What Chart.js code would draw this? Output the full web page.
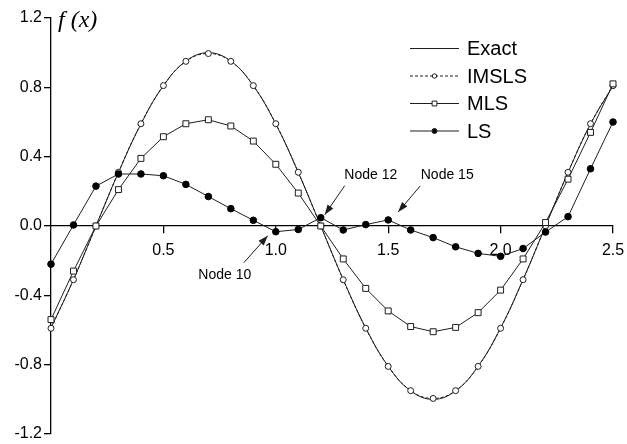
<!DOCTYPE html>
<html>
<head>
<meta charset="utf-8">
<script src="https://cdn.jsdelivr.net/npm/chart.js@4.4.1/dist/chart.umd.min.js"></script>
<style>
  html, body { margin: 0; padding: 0; background: #fff; }
  canvas { display: block; }
</style>
</head>
<body>
<canvas id="chart" width="627" height="444"></canvas>
<script>
// values, nodes at x = 0.0 .. 2.5 (step 0.1)
const xNodes = [0.0, 0.1, 0.2, 0.3, 0.4, 0.5, 0.6, 0.7, 0.8, 0.9, 1.0, 1.1, 1.2,
                1.3, 1.4, 1.5, 1.6, 1.7, 1.8, 1.9, 2.0, 2.1, 2.2, 2.3, 2.4, 2.5];
const exactVals = [-0.588, -0.309, 0.0, 0.309, 0.588, 0.809, 0.951, 1.0, 0.951, 0.809, 0.588, 0.309, 0.0,
                   -0.309, -0.588, -0.809, -0.951, -1.0, -0.951, -0.809, -0.588, -0.309, 0.0, 0.309, 0.588, 0.809];
const imslsVals = [-0.59, -0.31, 0.0, 0.31, 0.59, 0.81, 0.95, 0.995, 0.95, 0.81, 0.59, 0.31, 0.0,
                   -0.31, -0.59, -0.81, -0.95, -0.995, -0.95, -0.81, -0.59, -0.31, 0.0, 0.31, 0.59, 0.81];
const mlsVals = [-0.54, -0.26, 0.0, 0.21, 0.39, 0.515, 0.59, 0.613, 0.577, 0.49, 0.356, 0.19, 0.0,
                 -0.19, -0.36, -0.49, -0.58, -0.61, -0.585, -0.50, -0.37, -0.19, 0.02, 0.27, 0.54, 0.82];
const lsVals = [-0.22, 0.006, 0.23, 0.30, 0.30, 0.29, 0.24, 0.17, 0.10, 0.033, -0.033, -0.02, 0.048,
                -0.023, 0.008, 0.035, -0.023, -0.067, -0.12, -0.158, -0.175, -0.13, -0.035, 0.054, 0.33, 0.60];
const xTickVals = [0.5, 1.0, 1.5, 2.0, 2.5];
const yTickVals = [-1.2, -0.8, -0.4, 0.0, 0.4, 0.8, 1.2];
const noteNodes = [10, 12, 15];
const noteLabels = ['Node 10', 'Node 12', 'Node 15'];

const ink = '#1e1e1e';
const pts = vals => vals.map((v, i) => ({ x: xNodes[i], y: v }));

// where the arrows and texts sit, relative to the node they point at (px)
const notePlace = [
  { tip: [-8, 4],  tail: [-32, 31],  text: [-51, 43] },
  { tip: [4, -3],  tail: [24, -32],  text: [50, -43] },
  { tip: [10, -8], tail: [32, -34],  text: [59, -45] }
];

function drawMarker(ctx, style, cx, cy, r, fill) {
  ctx.beginPath();
  if (style === 'rect') {
    const h = r * Math.SQRT1_2;
    ctx.rect(cx - h, cy - h, 2 * h, 2 * h);
  } else {
    ctx.arc(cx, cy, r, 0, Math.PI * 2);
  }
  ctx.fillStyle = fill;
  ctx.fill();
  ctx.stroke();
}

const decorPlugin = {
  id: 'decor',
  afterDatasetsDraw(chart) {
    const { ctx, scales: { x, y } } = chart;
    ctx.save();

    // axis title
    ctx.fillStyle = '#000';
    ctx.font = 'italic 24px "Liberation Serif"';
    ctx.textAlign = 'left';
    ctx.textBaseline = 'middle';
    ctx.fillText('f (x)', x.left + 7, y.top + 3);

    // node notes with arrows
    ctx.font = '14px "Liberation Sans"';
    ctx.textAlign = 'center';
    ctx.strokeStyle = ink;
    ctx.lineWidth = 1;
    noteNodes.forEach((n, i) => {
      const px = x.getPixelForValue(xNodes[n]);
      const py = y.getPixelForValue(lsVals[n]);
      const p = notePlace[i];
      const tx = px + p.tip[0], ty = py + p.tip[1];
      const sx = px + p.tail[0], sy = py + p.tail[1];
      ctx.beginPath();
      ctx.moveTo(sx, sy);
      ctx.lineTo(tx, ty);
      ctx.stroke();
      const a = Math.atan2(ty - sy, tx - sx);
      const len = 10, wid = 3.5;
      ctx.beginPath();
      ctx.moveTo(tx, ty);
      ctx.lineTo(tx - len * Math.cos(a) + wid * Math.sin(a), ty - len * Math.sin(a) - wid * Math.cos(a));
      ctx.lineTo(tx - len * Math.cos(a) - wid * Math.sin(a), ty - len * Math.sin(a) + wid * Math.cos(a));
      ctx.closePath();
      ctx.fillStyle = ink;
      ctx.fill();
      ctx.fillStyle = '#000';
      ctx.fillText(noteLabels[i], px + p.text[0], py + p.text[1]);
    });

    // legend
    ctx.font = '20px "Liberation Sans"';
    ctx.textAlign = 'left';
    chart.data.datasets.forEach((ds, i) => {
      const ly = 48.5 + i * 27.5;
      ctx.strokeStyle = ink;
      ctx.lineWidth = 1;
      ctx.setLineDash(ds.borderDash || []);
      ctx.beginPath();
      ctx.moveTo(410, ly);
      ctx.lineTo(459, ly);
      ctx.stroke();
      ctx.setLineDash([]);
      if (ds.pointRadius > 0) {
        drawMarker(ctx, ds.pointStyle, 434.5, ly, ds.pointRadius - 0.8, ds.pointBackgroundColor);
      }
      ctx.fillStyle = '#000';
      ctx.fillText(ds.label, 467, ly + 1);
    });

    ctx.restore();
  }
};

new Chart(document.getElementById('chart').getContext('2d'), {
  type: 'line',
  data: {
    datasets: [
      {
        label: 'Exact', data: pts(exactVals), order: 3,
        borderColor: ink, borderWidth: 1, tension: 0.4,
        pointRadius: 0
      },
      {
        label: 'IMSLS', data: pts(imslsVals), order: 2,
        borderColor: ink, borderWidth: 1, borderDash: [3, 2], tension: 0.4,
        pointStyle: 'circle', pointRadius: 3, pointBorderWidth: 1,
        pointBackgroundColor: '#fff', pointBorderColor: ink
      },
      {
        label: 'MLS', data: pts(mlsVals), order: 1,
        borderColor: ink, borderWidth: 1, tension: 0,
        pointStyle: 'rect', pointRadius: 4.2, pointBorderWidth: 1,
        pointBackgroundColor: '#fff', pointBorderColor: ink
      },
      {
        label: 'LS', data: pts(lsVals), order: 0,
        borderColor: ink, borderWidth: 1, tension: 0,
        pointStyle: 'circle', pointRadius: 3.3, pointBorderWidth: 1,
        pointBackgroundColor: '#000', pointBorderColor: '#000'
      }
    ]
  },
  options: {
    responsive: false,
    animation: false,
    devicePixelRatio: 1,
    clip: false,
    layout: { padding: { top: 18, bottom: 10, left: 0, right: 14 } },
    plugins: { legend: { display: false }, tooltip: { enabled: false } },
    scales: {
      x: {
        type: 'linear', min: 0, max: 2.5,
        position: { y: 0 },
        afterBuildTicks: s => { s.ticks = xTickVals.map(v => ({ value: v })); },
        afterFit: s => { s.paddingLeft = 0; s.paddingRight = 0; },
        border: { display: true, color: '#000', width: 1.3 },
        grid: { drawOnChartArea: false, drawTicks: true, tickLength: 7, color: '#000', lineWidth: 1.3 },
        ticks: { color: '#000', font: { family: 'Liberation Sans', size: 16 }, padding: 8,
                 maxRotation: 0, autoSkip: false, callback: v => v.toFixed(1) }
      },
      y: {
        type: 'linear', min: -1.2, max: 1.2, position: 'left',
        afterBuildTicks: s => { s.ticks = yTickVals.map(v => ({ value: v })); },
        afterFit: s => { s.width = 51; s.paddingTop = 0; s.paddingBottom = 0; },
        border: { display: true, color: '#000', width: 1.3 },
        grid: { drawOnChartArea: false, drawTicks: true, tickLength: 7, color: '#000', lineWidth: 1.3 },
        ticks: { color: '#000', font: { family: 'Liberation Sans', size: 16 }, padding: 2,
                 autoSkip: false, callback: v => v.toFixed(1) }
      }
    }
  },
  plugins: [decorPlugin]
});
</script>
</body>
</html>
